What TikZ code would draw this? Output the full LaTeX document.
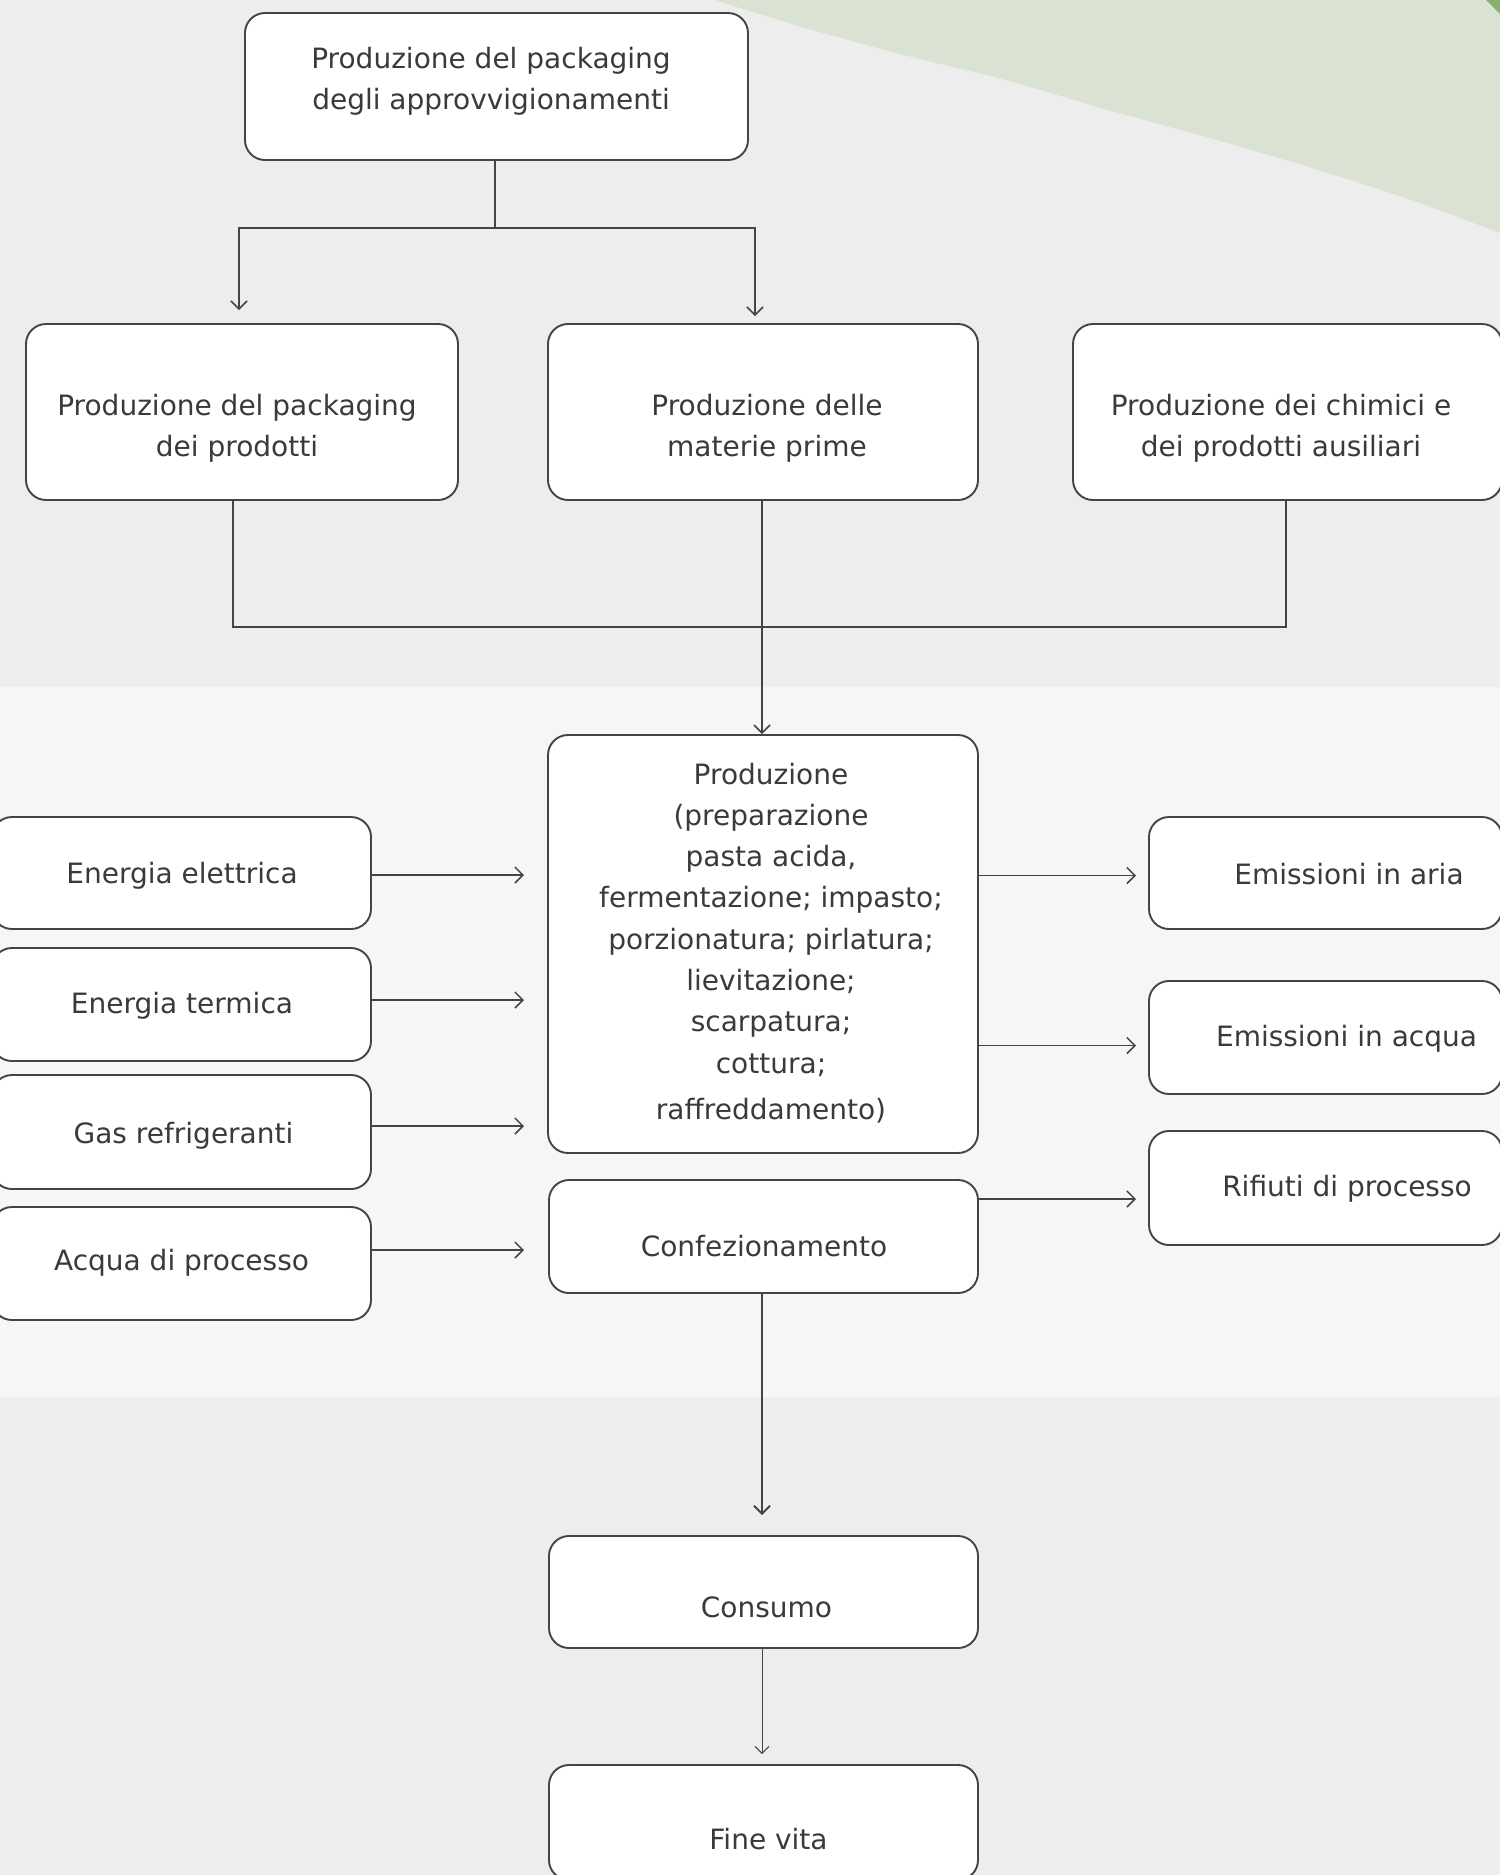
\documentclass[tikz,border=0pt]{standalone}
\usepackage{fontspec}
\setmainfont{DejaVu Sans}
\usetikzlibrary{arrows.meta}
\definecolor{bgA}{HTML}{EDEDED}
\definecolor{bgB}{HTML}{F6F6F6}
\definecolor{leaf}{HTML}{D9E2D3}
\definecolor{leafdark}{HTML}{8AAE72}
\definecolor{ink}{HTML}{3A3A3A}
\definecolor{edgec}{HTML}{444444}
\begin{document}
\begin{tikzpicture}[x=1pt,y=-1pt,
  box/.style={draw=edgec, line width=1.9pt, fill=white, rounded corners=20pt, inner sep=0pt},
  txt/.style={text=ink, font=\fontsize{28}{41.3}\selectfont, inner sep=0pt, anchor=base},
  conn/.style={draw=edgec, line width=1.5pt},
  arr/.style={conn, -{Straight Barb[length=8pt,width=16pt]}},
  thickarr/.style={draw=edgec, line width=1.9pt, -{Straight Barb[length=8pt,width=16pt]}},
  thinarr/.style={draw=edgec, line width=1pt, -{Straight Barb[length=7pt,width=14pt]}}]
\useasboundingbox (0,0) rectangle (1500,1875);
\clip (0,0) rectangle (1500,1875);
% backgrounds
\fill[bgA] (0,0) rectangle (1500,1875);
\fill[bgB] (0,687) rectangle (1500,1397);
\fill[leaf] plot[smooth] coordinates {(715,0) (802,27) (904,55) (1006,80) (1108,110) (1210,138) (1312,168) (1414,201) (1500,233)} -- (1500,0) -- cycle;
\fill[leafdark] (1486,0) -- (1500,0) -- (1500,14) -- cycle;

% boxes
\node[box, minimum width=503pt, minimum height=147pt] (top) at (496.5,86.5) {};
\node[box, minimum width=432pt, minimum height=176pt] (l2) at (242,412) {};
\node[box, minimum width=430pt, minimum height=176pt] (m2) at (763,412) {};
\node[box, minimum width=429pt, minimum height=176pt] (r2) at (1287.5,412) {};
\node[box, minimum width=430pt, minimum height=418pt] (prod) at (763,944) {};
\node[box, minimum width=429pt, minimum height=113pt] (conf) at (763.5,1236.5) {};
\node[box, minimum width=379pt, minimum height=112pt] (ee) at (181.5,873) {};
\node[box, minimum width=379pt, minimum height=113pt] (et) at (181.5,1004.5) {};
\node[box, minimum width=379pt, minimum height=114pt] (gas) at (181.5,1132) {};
\node[box, minimum width=379pt, minimum height=113pt] (acq) at (181.5,1263.5) {};
\node[box, minimum width=353pt, minimum height=112pt] (ea) at (1325.5,873) {};
\node[box, minimum width=353pt, minimum height=113pt] (eacq) at (1325.5,1037.5) {};
\node[box, minimum width=353pt, minimum height=114pt] (rif) at (1325.5,1188) {};
\node[box, minimum width=429pt, minimum height=112pt] (cons) at (763.5,1592) {};
\node[box, minimum width=429pt, minimum height=115pt] (fine) at (763.5,1822.5) {};

% texts
\node[txt] (toptxt) at (491,68) {\begin{tabular}[t]{@{}c@{}}Produzione del packaging\\degli approvvigionamenti\end{tabular}};
\node[txt] (l2txt) at (237,415) {\begin{tabular}[t]{@{}c@{}}Produzione del packaging\\dei prodotti\end{tabular}};
\node[txt] (m2txt) at (767,415) {\begin{tabular}[t]{@{}c@{}}Produzione delle\\materie prime\end{tabular}};
\node[txt] (r2txt) at (1281,415) {\begin{tabular}[t]{@{}c@{}}Produzione dei chimici e\\dei prodotti ausiliari\end{tabular}};
\node[txt] (prodtxt) at (771,784) {\begin{tabular}[t]{@{}c@{}}Produzione\\(preparazione\\pasta acida,\\fermentazione; impasto;\\porzionatura; pirlatura;\\lievitazione;\\scarpatura;\\cottura;\\[5pt]raffreddamento)\end{tabular}};
\node[txt] (conftxt) at (764,1256) {Confezionamento};
\node[txt] (eetxt) at (182,883) {Energia elettrica};
\node[txt] (ettxt) at (182,1013) {Energia termica};
\node[txt] (gastxt) at (183.5,1143) {Gas refrigeranti};
\node[txt] (acqtxt) at (181.5,1270) {Acqua di processo};
\node[txt] (eatxt) at (1349,884) {Emissioni in aria};
\node[txt] (eacqtxt) at (1346.5,1046) {Emissioni in acqua};
\node[txt] (riftxt) at (1347,1196) {Rifiuti di processo};
\node[txt] (constxt) at (766.5,1617) {Consumo};
\node[txt] (finetxt) at (768.5,1849) {Fine vita};

% connectors: top -> row 2
\coordinate (j1) at (495,228);
\coordinate (a1) at (239,310);
\coordinate (a2) at (755,316);
\draw[conn] (top.south -| j1) -- (j1);
\draw[arr] (j1) -| (a1);
\draw[arr] (j1) -| (a2);

% row 2 -> production
\coordinate (b1) at (233,627);
\coordinate (b2) at (1286,627);
\draw[conn] (l2.south -| b1) -- (b1) -- (b2) -- (r2.south -| b2);
\coordinate (b3) at (762,0);
\draw[arr] (m2.south -| b3) -- (prod.north -| b3);

% inputs
\coordinate (tipL) at (524,0);
\coordinate (ly1) at (0,875);
\coordinate (ly2) at (0,1000);
\coordinate (ly3) at (0,1126);
\coordinate (ly4) at (0,1250);
\draw[arr] (ee.east |- ly1) -- (tipL |- ly1);
\draw[arr] (et.east |- ly2) -- (tipL |- ly2);
\draw[arr] (gas.east |- ly3) -- (tipL |- ly3);
\draw[arr] (acq.east |- ly4) -- (tipL |- ly4);

% outputs
\coordinate (tipR) at (1136,0);
\coordinate (ry1) at (0,875.5);
\coordinate (ry2) at (0,1045.5);
\coordinate (ry3) at (0,1199);
\draw[arr] (prod.east |- ry1) -- (tipR |- ry1);
\draw[arr] (prod.east |- ry2) -- (tipR |- ry2);
\draw[arr] (conf.east |- ry3) -- (tipR |- ry3);

% lower chain
\coordinate (c1) at (762,1515);
\coordinate (c2) at (762,1754);
\draw[thickarr] (conf.south -| c1) -- (c1);
\draw[thinarr] (cons.south -| c2) -- (c2);
\end{tikzpicture}
\end{document}
